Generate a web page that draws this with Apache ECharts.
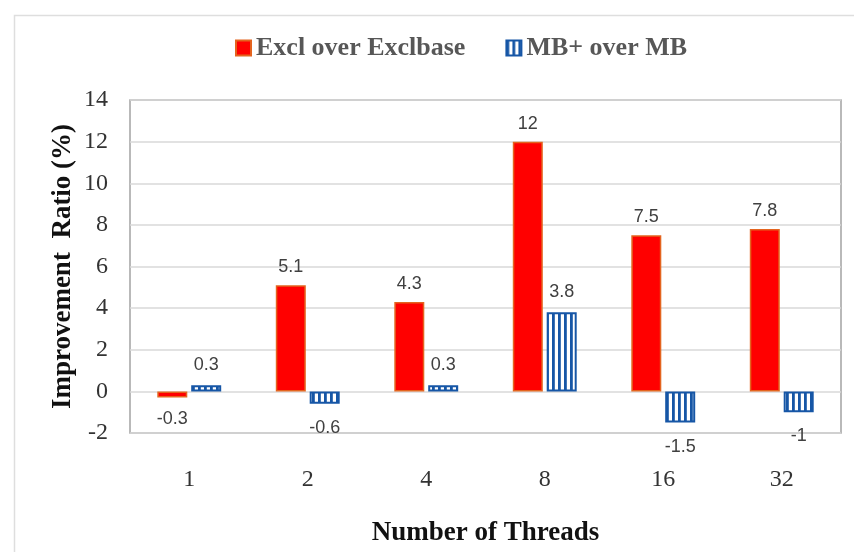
<!DOCTYPE html>
<html>
<head>
<meta charset="utf-8">
<script src="https://cdn.jsdelivr.net/npm/echarts@6/dist/echarts.min.js"></script>
<style>
  html, body { margin: 0; padding: 0; background: #fff; }
  #chart { width: 854px; height: 552px; }
</style>
</head>
<body>
<div id="chart"></div>
<script>
// Thread counts on the category axis
const threads = ['1', '2', '4', '8', '16', '32'];
// Improvement ratios (%)
const exclOverExclbase = [-0.3, 5.1, 4.3, 12, 7.5, 7.8];
const mbPlusOverMb = [0.3, -0.6, 0.3, 3.8, -1.5, -1];
// Value axis range
const yMin = -2, yMax = 14, yStep = 2;
const seriesNames = ['Excl over Exclbase', 'MB+ over MB'];

const RED = '#ff0000', RED_EDGE = '#e4641f', BLUE = '#1656a6';
const SERIF = 'Liberation Serif, Times New Roman, serif';

// Vertical-stripe fill for the MB+ series
function stripePattern() {
  const c = document.createElement('canvas');
  c.width = 6; c.height = 8;
  const ctx = c.getContext('2d');
  ctx.fillStyle = '#ffffff';
  ctx.fillRect(0, 0, 6, 8);
  ctx.fillStyle = BLUE;
  ctx.fillRect(0, 0, 2.8, 8);
  return c;
}

// Value labels sit above positive bars and below negative ones
function withLabels(values, posGap, negGap) {
  return values.map(v => ({
    value: v,
    label: { position: v < 0 ? 'bottom' : 'top', distance: v < 0 ? negGap : posGap }
  }));
}

const labelStyle = {
  show: true,
  color: '#404040',
  fontFamily: 'Liberation Sans, Arial, sans-serif',
  fontSize: 18
};

const chart = echarts.init(document.getElementById('chart'), null, { renderer: 'canvas' });
chart.setOption({
  animation: false,
  backgroundColor: '#ffffff',
  graphic: [{
    type: 'rect',
    shape: { x: 14.5, y: 15.5, width: 900, height: 600 },
    style: { fill: 'none', stroke: '#dedede', lineWidth: 1.5 },
    silent: true
  }],
  legend: {
    left: 230,
    top: 30,
    itemWidth: 15,
    itemHeight: 15,
    itemGap: 40,
    icon: 'rect',
    textStyle: {
      color: '#575757',
      fontFamily: SERIF,
      fontWeight: 'bold',
      fontSize: 26
    },
    data: seriesNames
  },
  grid: {
    left: 130, right: 13, top: 100, bottom: 118,
    show: true,
    borderColor: '#a3a3a3',
    borderWidth: 1.5,
    containLabel: false
  },
  xAxis: {
    type: 'category',
    data: threads,
    axisLine: { show: false, onZero: false },
    axisTick: { show: false },
    axisLabel: {
      margin: 35,
      color: '#333333',
      fontFamily: SERIF,
      fontSize: 24
    },
    name: 'Number of Threads',
    nameLocation: 'middle',
    nameGap: 87,
    nameMoveOverlap: false,
    nameTextStyle: {
      color: '#111111',
      fontFamily: SERIF,
      fontWeight: 'bold',
      fontSize: 27
    }
  },
  yAxis: {
    type: 'value',
    min: yMin,
    max: yMax,
    interval: yStep,
    axisLine: { show: false },
    axisTick: { show: false },
    splitLine: { lineStyle: { color: '#d9d9d9', width: 1.5 } },
    axisLabel: {
      margin: 22,
      color: '#333333',
      fontFamily: SERIF,
      fontSize: 24
    },
    name: 'Improvement  Ratio (%)',
    nameLocation: 'middle',
    nameGap: 53,
    nameMoveOverlap: false,
    nameTextStyle: {
      color: '#111111',
      fontFamily: SERIF,
      fontWeight: 'bold',
      fontSize: 27
    }
  },
  series: [
    {
      name: seriesNames[0],
      type: 'bar',
      barWidth: 30,
      barGap: '13%',
      itemStyle: { color: RED, borderColor: RED_EDGE, borderWidth: 1.5 },
      label: labelStyle,
      data: withLabels(exclOverExclbase, 9, 12)
    },
    {
      name: seriesNames[1],
      type: 'bar',
      barWidth: 30,
      barGap: '13%',
      itemStyle: {
        color: { image: stripePattern(), repeat: 'repeat' },
        borderColor: BLUE,
        borderWidth: 2
      },
      label: labelStyle,
      data: withLabels(mbPlusOverMb, 11, 15)
    }
  ]
});
</script>
</body>
</html>
